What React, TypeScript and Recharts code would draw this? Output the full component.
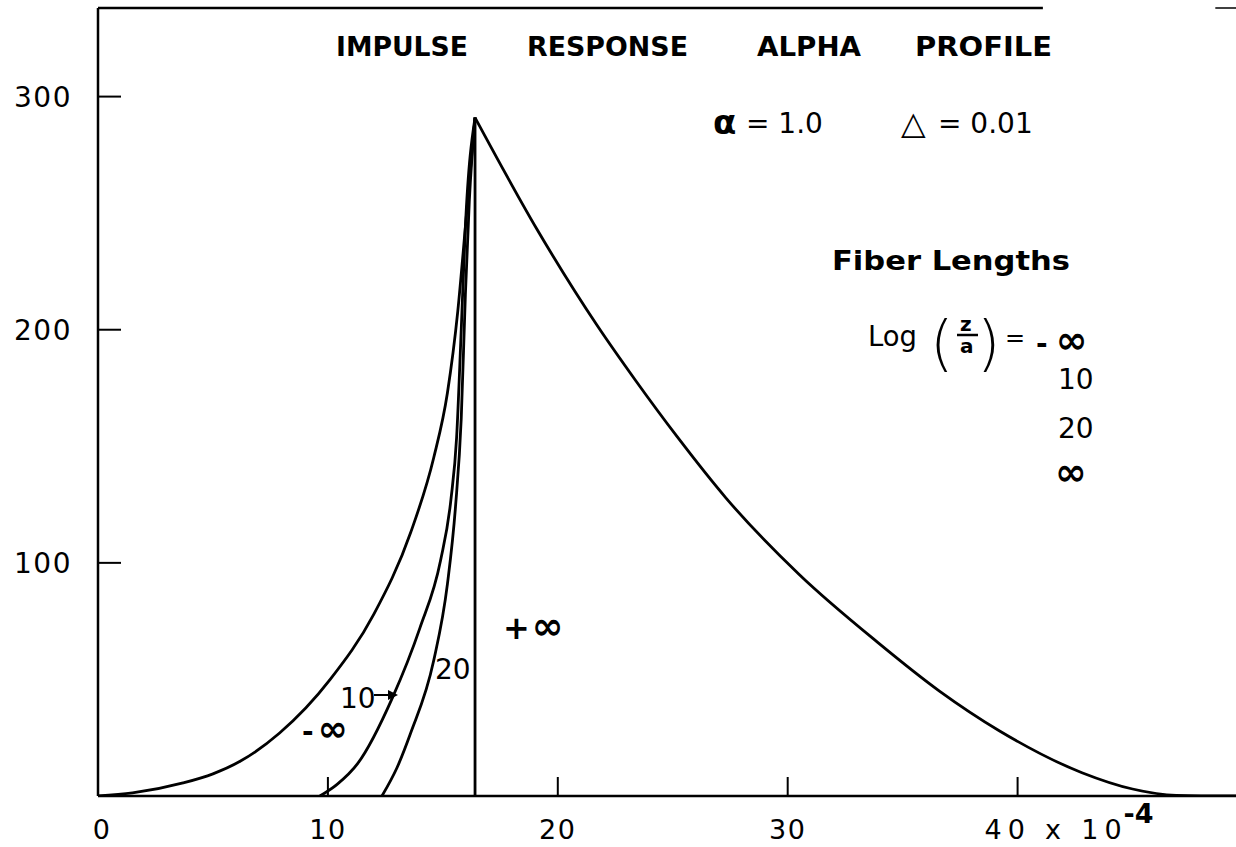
import React from 'react';
import { LineChart, Line, XAxis, YAxis, ReferenceLine } from 'recharts';

// x in units of 10^-4, y in response units
const peak = { u: 16.4, v: 291 };

const minusInfCurve = [
  { u: 0, v: 0 },
  { u: 1.5, v: 1.3 },
  { u: 3.7, v: 5.6 },
  { u: 5.0, v: 9.5 },
  { u: 6.2, v: 15 },
  { u: 7.9, v: 27 },
  { u: 10.1, v: 50 },
  { u: 12.0, v: 78 },
  { u: 13.6, v: 113 },
  { u: 14.6, v: 145 },
  { u: 15.2, v: 173 },
  { u: 15.65, v: 208 },
  { u: 15.98, v: 244 },
  peak,
];

const tenCurve = [
  { u: 9.65, v: 0 },
  { u: 10.4, v: 5 },
  { u: 11.3, v: 14 },
  { u: 12.8, v: 42 },
  { u: 14.0, v: 72 },
  { u: 14.9, v: 101 },
  { u: 15.35, v: 127 },
  { u: 15.6, v: 154 },
  { u: 15.8, v: 200 },
  { u: 15.98, v: 244 },
  peak,
];

const twentyCurve = [
  { u: 12.35, v: 0 },
  { u: 13.0, v: 12 },
  { u: 13.6, v: 27 },
  { u: 14.6, v: 58 },
  { u: 15.2, v: 91 },
  { u: 15.55, v: 124 },
  { u: 15.8, v: 162 },
  { u: 15.98, v: 215 },
  { u: 16.15, v: 255 },
  peak,
];

const infStep = [
  { u: 16.4, v: 0 },
  peak,
];

const decayCurve = [
  peak,
  { u: 19.1, v: 243 },
  { u: 21.7, v: 202 },
  { u: 23.4, v: 178 },
  { u: 25.2, v: 154 },
  { u: 27.3, v: 128 },
  { u: 30.5, v: 95 },
  { u: 33.9, v: 66 },
  { u: 36.6, v: 45 },
  { u: 39.2, v: 28 },
  { u: 42.8, v: 10 },
  { u: 45.0, v: 3 },
  { u: 46.9, v: 0.3 },
  { u: 49.5, v: 0 },
];

const xTicks = [0, 10, 20, 30, 40];
const yTicks = [100, 200, 300];
const xMax = 49.5;
const yMax = 338;
const topFrameEnd = 41.1;
const topDashStart = 48.6;

const FONT = '"DejaVu Sans", sans-serif';
const INK = '#000';

const XTick = (props: any) => {
  const { x, y, payload } = props;
  const val = payload.value;
  return (
    <g>
      {val !== 0 && <line x1={x} y1={y} x2={x} y2={y - 19} stroke={INK} strokeWidth={2} />}
      {val === 40 ? (
        <g fontFamily={FONT} fill={INK}>
          <text x={x - 33} y={y + 43} fontSize={27} textLength={137} lengthAdjust="spacing">40 x 10</text>
          <text x={x + 106} y={y + 27} fontSize={27} fontWeight="bold">-4</text>
        </g>
      ) : (
        <text x={x + (val === 0 ? 4 : 0)} y={y + 43} textAnchor="middle" fontFamily={FONT} fontSize={27} letterSpacing={1.5} fill={INK}>
          {val}
        </text>
      )}
    </g>
  );
};

const YTick = (props: any) => {
  const { x, y, payload } = props;
  return (
    <g>
      <line x1={x} y1={y} x2={x + 23} y2={y} stroke={INK} strokeWidth={2} />
      <text x={x - 26} y={y + 10} textAnchor="end" fontFamily={FONT} fontSize={28} letterSpacing={1.5} fill={INK}>
        {payload.value}
      </text>
    </g>
  );
};

const curveProps = {
  dataKey: 'v',
  stroke: INK,
  strokeWidth: 2.8,
  dot: false,
  isAnimationActive: false,
};

function Labels() {
  const t = { fontFamily: FONT, fill: INK } as const;
  return (
    <svg width={1236} height={847} style={{ position: 'absolute', left: 0, top: 0, pointerEvents: 'none' }}>
      {/* title */}
      <g {...t} fontSize={27} fontWeight="bold">
        <text x={336} y={56} textLength={132} lengthAdjust="spacingAndGlyphs">IMPULSE</text>
        <text x={527} y={56} textLength={161} lengthAdjust="spacingAndGlyphs">RESPONSE</text>
        <text x={757} y={56} textLength={104} lengthAdjust="spacingAndGlyphs">ALPHA</text>
        <text x={915} y={56} textLength={137} lengthAdjust="spacingAndGlyphs">PROFILE</text>
      </g>
      {/* parameters */}
      <text {...t} x={713} y={134} fontSize={34} fontWeight="bold">α</text>
      <text {...t} x={746} y={133} fontSize={28}>= 1.0</text>
      <text {...t} x={901} y={134} fontSize={32}>△</text>
      <text {...t} x={938} y={133} fontSize={28}>= 0.01</text>
      {/* legend */}
      <text {...t} x={832} y={270} fontSize={27} fontWeight="bold" textLength={238} lengthAdjust="spacingAndGlyphs">Fiber  Lengths</text>
      <text {...t} x={868} y={346} fontSize={28} textLength={49} lengthAdjust="spacingAndGlyphs">Log</text>
      <text {...t} x={930} y={364} fontSize={60} fontWeight="200">(</text>
      <text {...t} x={960} y={331} fontSize={20} fontWeight="bold">z</text>
      <line x1={957} y1={335} x2={978} y2={335} stroke={INK} strokeWidth={2.5} />
      <text {...t} x={960} y={353} fontSize={20} fontWeight="bold">a</text>
      <text {...t} x={977} y={364} fontSize={60} fontWeight="200">)</text>
      <text {...t} x={1005} y={346} fontSize={24}>=</text>
      <text {...t} x={1036} y={353} fontSize={28} fontWeight="bold">
        -<tspan dx={8} fontSize={38}>∞</tspan>
      </text>
      <text {...t} x={1058} y={389} fontSize={28}>10</text>
      <text {...t} x={1058} y={438} fontSize={28}>20</text>
      <text {...t} x={1055} y={485} fontSize={38} fontWeight="bold">∞</text>
      {/* curve labels */}
      <text {...t} x={503} y={639} fontSize={32} fontWeight="bold">
        +<tspan dx={2} fontSize={38}>∞</tspan>
      </text>
      <text {...t} x={435} y={679} fontSize={28}>20</text>
      <text {...t} x={340} y={708} fontSize={28}>10</text>
      <line x1={374} y1={695} x2={392} y2={695} stroke={INK} strokeWidth={2} />
      <polygon points="398,695 388,690 388,700" fill={INK} />
      <text {...t} x={302} y={741} fontSize={28} fontWeight="bold">
        -<tspan dx={4} fontSize={36}>∞</tspan>
      </text>
    </svg>
  );
}

export default function App() {
  return (
    <div style={{ position: 'absolute', left: 0, top: 0, width: 1236, height: 847, background: '#fff' }}>
      <LineChart width={1236} height={847} margin={{ top: 8, right: 0, bottom: 0, left: 0 }}>
        <XAxis
          type="number"
          dataKey="u"
          domain={[0, xMax]}
          ticks={xTicks}
          tick={<XTick />}
          tickLine={false}
          tickSize={0}
          tickMargin={0}
          height={51}
          axisLine={{ stroke: INK, strokeWidth: 2.5 }}
          allowDataOverflow
        />
        <YAxis
          type="number"
          domain={[0, yMax]}
          ticks={yTicks}
          tick={<YTick />}
          tickLine={false}
          tickSize={0}
          tickMargin={0}
          width={98}
          axisLine={{ stroke: INK, strokeWidth: 2.5 }}
          allowDataOverflow
        />
        <ReferenceLine
          segment={[{ x: 0, y: yMax }, { x: topFrameEnd, y: yMax }]}
          stroke={INK}
          strokeWidth={2.5}
        />
        <ReferenceLine
          segment={[{ x: topDashStart, y: yMax }, { x: xMax, y: yMax }]}
          stroke={INK}
          strokeWidth={1.5}
        />
        <Line {...curveProps} data={minusInfCurve} type="monotone" />
        <Line {...curveProps} data={tenCurve} type="monotone" />
        <Line {...curveProps} data={twentyCurve} type="monotone" />
        <Line {...curveProps} data={infStep} type="linear" />
        <Line {...curveProps} data={decayCurve} type="monotone" />
      </LineChart>
      <Labels />
    </div>
  );
}
